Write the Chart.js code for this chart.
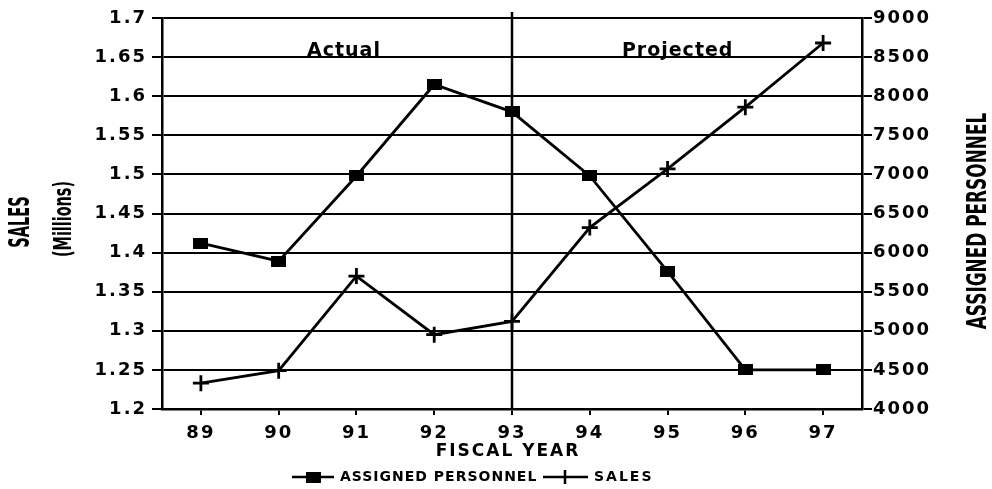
<!DOCTYPE html>
<html>
<head>
<meta charset="utf-8">
<script src="https://cdn.jsdelivr.net/npm/chart.js@4.4.1/dist/chart.umd.min.js"></script>
<style>
  html, body { margin: 0; padding: 0; background: #fff; }
  #wrap { width: 992px; height: 489px; }
</style>
</head>
<body>
<div id="wrap"><canvas id="salesChart"></canvas></div>
<script>
const years = ["89", "90", "91", "92", "93", "94", "95", "96", "97"];
const personnel = [6120, 5890, 6980, 8150, 7800, 6980, 5760, 4500, 4500];
const sales = [1.233, 1.249, 1.37, 1.295, 1.312, 1.432, 1.507, 1.586, 1.668];

const salesTicks = [1.2, 1.25, 1.3, 1.35, 1.4, 1.45, 1.5, 1.55, 1.6, 1.65, 1.7];
const personnelTicks = [4000, 4500, 5000, 5500, 6000, 6500, 7000, 7500, 8000, 8500, 9000];

const FONT = '"DejaVu Sans", "Liberation Sans", sans-serif';

// filled box used as the personnel marker (a bit wider than tall)
function boxMarker(w, h) {
  const c = document.createElement("canvas");
  c.width = w;
  c.height = h;
  const g = c.getContext("2d");
  g.fillStyle = "#000";
  g.fillRect(0, 0, w, h);
  return c;
}
const square = boxMarker(15, 11);

// rotated, horizontally squeezed text (the old plotter font is tall and narrow)
function verticalText(ctx, text, x, y, size, squeeze) {
  ctx.save();
  ctx.translate(x, y);
  ctx.rotate(-Math.PI / 2);
  ctx.scale(squeeze, 1);
  ctx.font = "bold " + size + "px " + FONT;
  ctx.letterSpacing = "0px";
  ctx.textAlign = "center";
  ctx.textBaseline = "middle";
  ctx.fillText(text, 0, 0);
  ctx.restore();
}

const decorations = {
  id: "decorations",
  beforeDraw(chart) {
    chart.ctx.letterSpacing = "2px";
  },
  beforeDatasetsDraw(chart) {
    const { ctx, chartArea, scales } = chart;
    const x93 = scales.x.getPixelForValue(4);
    ctx.save();
    ctx.strokeStyle = "#000";
    ctx.lineWidth = 2.5;
    ctx.beginPath();
    ctx.moveTo(x93, chartArea.top - 6);
    ctx.lineTo(x93, chartArea.bottom);
    ctx.stroke();

    ctx.fillStyle = "#000";
    ctx.font = "bold 19px " + FONT;
    ctx.letterSpacing = "1px";
    ctx.textAlign = "center";
    ctx.textBaseline = "alphabetic";
    const yLine = scales.y.getPixelForValue(1.65);
    ctx.fillText("Actual", scales.x.getPixelForValue(1.84), yLine - 1);
    ctx.fillText("Projected", scales.x.getPixelForValue(6.13), yLine - 1);
    ctx.restore();
  },
  afterDraw(chart) {
    const { ctx } = chart;
    ctx.save();
    ctx.fillStyle = "#000";
    ctx.strokeStyle = "#000";

    // axis titles
    verticalText(ctx, "SALES", 22, 222, 28, 0.52);
    verticalText(ctx, "(Millions)", 65, 219, 24, 0.6);
    verticalText(ctx, "ASSIGNED PERSONNEL", 979, 221, 26, 0.65);

    ctx.font = "bold 17px " + FONT;
    ctx.letterSpacing = "2px";
    ctx.textAlign = "center";
    ctx.textBaseline = "middle";
    ctx.fillText("FISCAL YEAR", 508, 452);

    // legend
    const ly = 477;
    ctx.lineWidth = 2.5;
    ctx.font = "bold 14px " + FONT;
    ctx.textAlign = "left";

    ctx.beginPath();
    ctx.moveTo(292, ly);
    ctx.lineTo(334, ly);
    ctx.stroke();
    ctx.drawImage(square, 313 - 7, ly - 5);
    ctx.letterSpacing = "1px";
    ctx.fillText("ASSIGNED PERSONNEL", 340, ly);

    ctx.beginPath();
    ctx.moveTo(543, ly);
    ctx.lineTo(588, ly);
    ctx.moveTo(565, ly - 7);
    ctx.lineTo(565, ly + 7);
    ctx.stroke();
    ctx.letterSpacing = "2px";
    ctx.fillText("SALES", 594, ly);
    ctx.restore();
  },
};

const ctx = document.getElementById("salesChart").getContext("2d");

new Chart(ctx, {
  type: "line",
  data: {
    labels: years,
    datasets: [
      {
        label: "ASSIGNED PERSONNEL",
        data: personnel,
        yAxisID: "y2",
        borderColor: "#000",
        borderWidth: 2.8,
        pointStyle: square,
        pointRadius: 7,
        tension: 0,
      },
      {
        label: "SALES",
        data: sales,
        yAxisID: "y",
        borderColor: "#000",
        borderWidth: 2.8,
        pointStyle: "cross",
        pointRadius: 8,
        pointBorderWidth: 2.8,
        pointBorderColor: "#000",
        tension: 0,
      },
    ],
  },
  options: {
    responsive: true,
    maintainAspectRatio: false,
    animation: false,
    layout: { padding: { top: 18, left: 0, right: 0, bottom: 0 } },
    plugins: {
      legend: { display: false },
      tooltip: { enabled: false },
    },
    scales: {
      x: {
        offset: true,
        afterFit: (s) => { s.height = 80; },
        grid: {
          drawOnChartArea: false,
          drawTicks: true,
          tickLength: 6,
          color: "#000",
          lineWidth: 2,
        },
        border: { color: "#000", width: 2.5 },
        ticks: {
          color: "#000",
          padding: 8,
          maxRotation: 0,
          font: { family: FONT, weight: "bold", size: 18 },
        },
      },
      y: {
        position: "left",
        min: 1.2,
        max: 1.7,
        afterFit: (s) => { s.width = 162; },
        afterBuildTicks: (s) => { s.ticks = salesTicks.map((v) => ({ value: v })); },
        grid: { color: "#000", lineWidth: 2, tickLength: 10 },
        border: { color: "#000", width: 2.5 },
        ticks: {
          color: "#000",
          padding: 5,
          callback: (v) => String(Number(v.toFixed(2))),
          font: { family: FONT, weight: "bold", size: 18 },
        },
      },
      y2: {
        position: "right",
        min: 4000,
        max: 9000,
        afterFit: (s) => { s.width = 130; },
        afterBuildTicks: (s) => { s.ticks = personnelTicks.map((v) => ({ value: v })); },
        grid: { drawOnChartArea: false, color: "#000", lineWidth: 2, tickLength: 10 },
        border: { color: "#000", width: 2.5 },
        ticks: {
          color: "#000",
          padding: 1,
          callback: (v) => String(v),
          font: { family: FONT, weight: "bold", size: 18 },
        },
      },
    },
  },
  plugins: [decorations],
});
</script>
</body>
</html>
